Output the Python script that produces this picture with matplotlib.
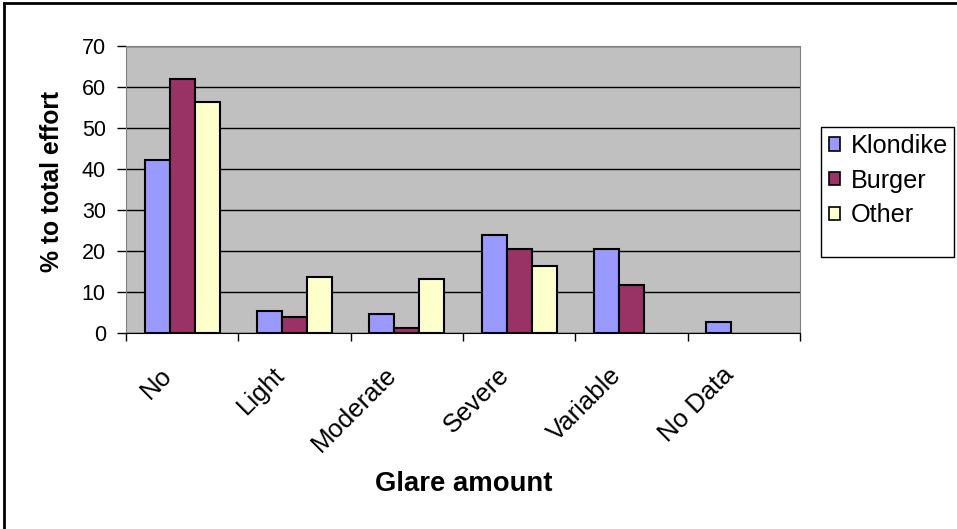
import numpy as np
import matplotlib
matplotlib.use('Agg')
import matplotlib.pyplot as plt
from matplotlib.lines import Line2D
from matplotlib.patches import Rectangle
from matplotlib.transforms import ScaledTranslation

# glare data, % of total effort
categories = ['No', 'Light', 'Moderate', 'Severe', 'Variable', 'No Data']
series_names = ['Klondike', 'Burger', 'Other']
klondike = [42.3, 5.4, 4.8, 23.9, 20.4, 2.8]
burger = [61.9, 3.9, 1.3, 20.4, 11.7, 0]
other = [56.2, 13.6, 13.1, 16.5, 0, 0]
colors = ['#9999FF', '#993366', '#FFFFCC']

plt.rcParams['font.family'] = ['Liberation Sans', 'DejaVu Sans']

W, H = 957, 529
fig = plt.figure(figsize=(W / 100, H / 100), dpi=100)
ax = fig.add_axes([126 / W, 1 - 333.3 / H, (800 - 126) / W, (333.3 - 45.7) / H])
ax.set_facecolor('#C0C0C0')

x = np.arange(len(categories))
w = 0.222
for i, (vals, name) in enumerate(zip([klondike, burger, other], series_names)):
    # empty cells are not drawn at all (no flat outline at zero)
    heights = [v if v > 0 else np.nan for v in vals]
    ax.bar(x + (i - 1) * w, heights, width=w, color=colors[i], edgecolor='black',
           linewidth=1.5, label=name, zorder=3)

ax.set_xlim(-0.5, len(categories) - 0.5)
ax.set_ylim(0, 70)
ax.set_yticks(range(0, 71, 10))
ax.yaxis.grid(True, color='black', linewidth=1, zorder=1)
ax.tick_params(axis='y', labelsize=15.5, length=6.5, width=1, direction='out', pad=8)

# category ticks sit between groups, labels slanted
ax.set_xticks(x)
ax.set_xticklabels(categories, rotation=45, ha='right', va='center',
                   rotation_mode='anchor', fontsize=18.5)
ax.tick_params(axis='x', length=0, pad=0)
shift = ScaledTranslation(-14 / 100, -38 / 100, fig.dpi_scale_trans)
for lab in ax.get_xticklabels():
    lab.set_transform(lab.get_transform() + shift)
ax.set_xticks(np.arange(len(categories) + 1) - 0.5, minor=True)
ax.tick_params(axis='x', which='minor', length=6, width=1, direction='out')

for s in ['top', 'right', 'left']:
    ax.spines[s].set_color('#808080')
ax.spines['bottom'].set_color('black')

fig.text(52 / W, 1 - 182 / H, '% to total effort', rotation=90, ha='center', va='center',
         fontsize=17.8, fontweight='bold')
fig.text(464 / W, 1 - 484 / H, 'Glare amount', ha='center', va='center',
         fontsize=19.8, fontweight='bold')

leg = fig.legend(loc='upper left', bbox_to_anchor=(829 / W, 1 - 134 / H),
                 fontsize=18.2, frameon=False,
                 handlelength=0.42, handleheight=0.42, handletextpad=0.45,
                 labelspacing=0.42, borderpad=0, borderaxespad=0)
for h in leg.legend_handles:
    h.set_linewidth(1.2)
fig.add_artist(Rectangle((821 / W, 1 - 257 / H), 133 / W, 130 / H, transform=fig.transFigure,
                         facecolor='none', edgecolor='black', linewidth=1))

# outer chart border (left and top visible)
fig.add_artist(Line2D([4 / W, 4 / W], [0, 1 - 3 / H], color='black', lw=2, transform=fig.transFigure))
fig.add_artist(Line2D([4 / W, 1], [1 - 3 / H, 1 - 3 / H], color='black', lw=2, transform=fig.transFigure))

fig.savefig('out.png', dpi=100)
